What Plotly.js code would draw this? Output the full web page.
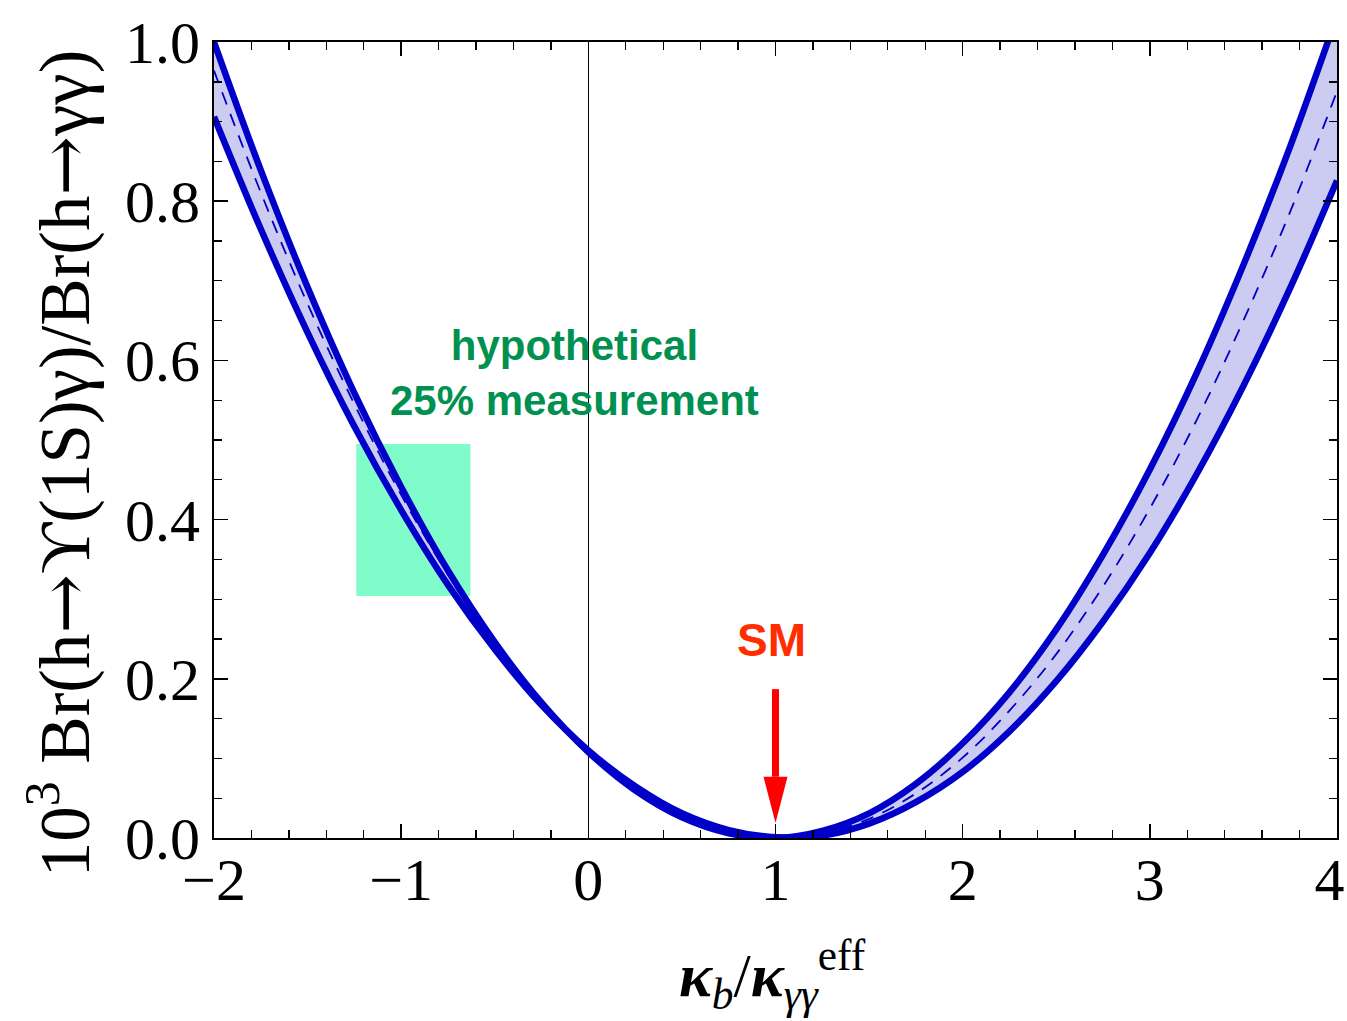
<!DOCTYPE html>
<html>
<head>
<meta charset="utf-8">
<script src="https://cdn.plot.ly/plotly-3.0.1.min.js"></script>
<style>
  html, body { margin: 0; padding: 0; background: #fff; }
  #chart { width: 1347px; height: 1021px; }
</style>
</head>
<body>
<div id="chart"></div>
<script>
// kappa_b / kappa_gammagamma^eff grid
const kappaRatio = [-2, -1.75, -1.5, -1.25, -1, -0.75, -0.5, -0.25, 0, 0.25, 0.5, 0.75, 1,
                    1.25, 1.5, 1.75, 2, 2.25, 2.5, 2.75, 3, 3.25, 3.5, 3.75, 4];

// 10^3 Br(h -> Upsilon(1S) gamma) / Br(h -> gamma gamma): band edges and central value
const brUpper   = [1.000, 0.839, 0.692, 0.559, 0.441, 0.336, 0.246, 0.170, 0.108, 0.060, 0.026, 0.006, 0.000,
                   0.009, 0.031, 0.068, 0.119, 0.183, 0.262, 0.356, 0.463, 0.584, 0.720, 0.869, 1.033];
const brLower   = [0.906, 0.765, 0.635, 0.517, 0.412, 0.318, 0.237, 0.167, 0.110, 0.065, 0.031, 0.010, 0.001,
                   0.003, 0.018, 0.045, 0.083, 0.134, 0.197, 0.272, 0.358, 0.457, 0.568, 0.691, 0.826];
const brCentral = [0.964, 0.811, 0.671, 0.545, 0.431, 0.331, 0.244, 0.171, 0.110, 0.063, 0.029, 0.008, 0.000,
                   0.006, 0.024, 0.056, 0.101, 0.160, 0.231, 0.316, 0.414, 0.525, 0.650, 0.787, 0.938];

// axis ticks (the last label is nudged inward so it stays on the page)
const xTickVals = [-2, -1, 0, 1, 2, 3, 4];
const xTickText = ['\u22122', '\u22121', '0', '1', '2', '3', '4\u00a0'];

// hypothetical 25% measurement window
const boxKappa = [-1.24, -0.63];
const boxBr    = [0.304, 0.495];

// Standard Model point and its marker arrow
const smKappa   = 1;
const arrowTop  = 0.187;
const arrowBase = 0.077;
const arrowTip  = 0.019;

const bandBlue = '#0000c8';
const bandFill = 'rgba(204,204,242,1)';
const serif = '"Liberation Serif", "Times New Roman", serif';
const sans = '"Liberation Sans", Arial, sans-serif';
const arrowGlyph = '<span style="font-family:\'DejaVu Serif\'">→</span>';

const traces = [
  { x: kappaRatio, y: brLower, mode: 'lines', line: { width: 0, shape: 'spline', smoothing: 1 },
    hoverinfo: 'skip', showlegend: false },
  { x: kappaRatio, y: brUpper, mode: 'lines', line: { width: 0, shape: 'spline', smoothing: 1 },
    fill: 'tonexty', fillcolor: bandFill, hoverinfo: 'skip', showlegend: false },
  { x: kappaRatio, y: brCentral, mode: 'lines',
    line: { color: bandBlue, width: 1.8, dash: '13px,10px', shape: 'spline', smoothing: 1 },
    showlegend: false },
  { x: kappaRatio, y: brUpper, mode: 'lines',
    line: { color: bandBlue, width: 6.5, shape: 'spline', smoothing: 1 }, showlegend: false },
  { x: kappaRatio, y: brLower, mode: 'lines',
    line: { color: bandBlue, width: 6.5, shape: 'spline', smoothing: 1 }, showlegend: false }
];

const tickFont = { family: serif, size: 60, color: '#000' };

const layout = {
  width: 1347, height: 1021,
  margin: { l: 214, r: 10, t: 42, b: 183 },
  paper_bgcolor: '#fff', plot_bgcolor: '#fff',
  showlegend: false,
  xaxis: {
    range: [-2, 4], tickmode: 'array', tickvals: xTickVals, ticktext: xTickText,
    showgrid: false, zeroline: true, zerolinecolor: '#000', zerolinewidth: 1,
    showline: true, linecolor: '#000', linewidth: 2, mirror: 'allticks',
    ticks: 'inside', ticklen: 14, tickwidth: 1.6, tickcolor: '#000',
    minor: { dtick: 0.2, tick0: 0, ticks: 'inside', ticklen: 8, tickwidth: 1.4, tickcolor: '#000', showgrid: false },
    tickfont: tickFont, ticklabelstandoff: -12, ticklabeloverflow: 'allow'
  },
  yaxis: {
    range: [0, 1], dtick: 0.2, tick0: 0, tickformat: '.1f',
    showgrid: false, zeroline: false,
    showline: true, linecolor: '#000', linewidth: 2, mirror: 'allticks',
    ticks: 'inside', ticklen: 14, tickwidth: 1.6, tickcolor: '#000',
    minor: { dtick: 0.05, ticks: 'inside', ticklen: 8, tickwidth: 1.4, tickcolor: '#000', showgrid: false },
    tickfont: tickFont, ticklabelstandoff: 0, ticklabeloverflow: 'allow'
  },
  shapes: [
    { type: 'rect', layer: 'below', xref: 'x', yref: 'y',
      x0: boxKappa[0], x1: boxKappa[1], y0: boxBr[0], y1: boxBr[1],
      fillcolor: 'rgb(128,252,202)', line: { width: 0 } },
    { type: 'line', xref: 'x', yref: 'y', x0: smKappa, x1: smKappa, y0: arrowTop, y1: arrowBase,
      line: { color: '#ff0000', width: 7 } },
    { type: 'path', xref: 'x', yref: 'y', xsizemode: 'pixel', xanchor: smKappa,
      path: 'M0,' + arrowTip + ' L-12,' + arrowBase + ' L12,' + arrowBase + ' Z',
      fillcolor: '#ff0000', line: { width: 0 } }
  ],
  annotations: [
    // axis titles
    { xref: 'paper', yref: 'paper', x: -0.137, y: 0.471, xanchor: 'center', yanchor: 'middle',
      textangle: -90, showarrow: false,
      text: '10<sup>3</sup> Br(h' + arrowGlyph + 'ϒ(1S)γ)/Br(h' + arrowGlyph + 'γγ)',
      font: { family: serif, size: 71, color: '#000' } },
    { xref: 'paper', yref: 'paper', x: 0.497, y: -0.172, xanchor: 'center', yanchor: 'middle',
      showarrow: false,
      text: '<b><i>κ</i></b><sub><i>b</i></sub>/<b><i>κ</i></b><sub><i>γγ</i></sub><sup>eff</sup>',
      font: { family: serif, size: 62, color: '#000' } },
    // in-plot labels
    { x: -0.075, y: 0.584, xref: 'x', yref: 'y', showarrow: false,
      text: 'hypothetical<br>25% measurement',
      font: { family: sans, size: 42, color: '#009150', weight: 'bold' } },
    { x: 0.98, y: 0.249, xref: 'x', yref: 'y', showarrow: false, text: 'SM',
      font: { family: sans, size: 46, color: '#ff2d00', weight: 'bold' } }
  ]
};

Plotly.newPlot('chart', traces, layout, { displayModeBar: false, staticPlot: true });
</script>
</body>
</html>
